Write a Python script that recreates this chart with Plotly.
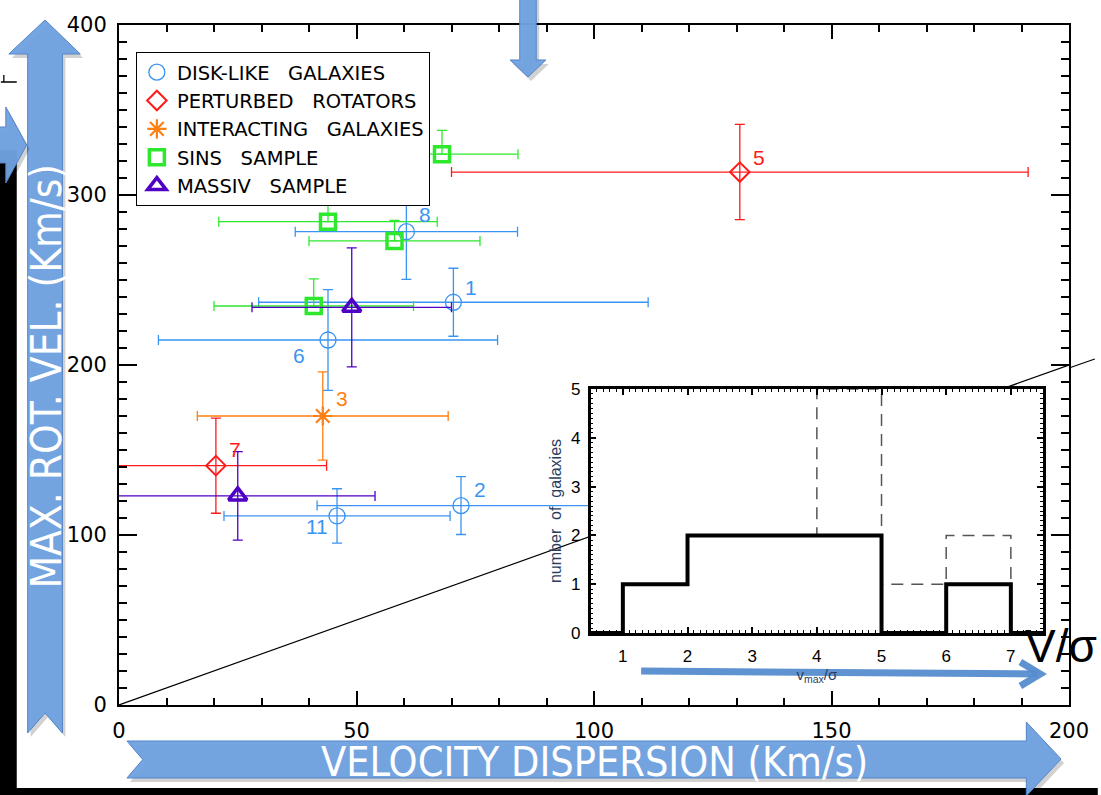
import plotly.graph_objects as go

# ---------------- data ----------------
disk_x = [60.5, 70.4, 44.0, 72.0, 45.9]
disk_y = [278.4, 236.9, 214.7, 117.3, 111.2]
disk_xerr = [23.4, 41.0, 35.7, 30.3, 23.8]
disk_yerr = [28.0, 20.0, 29.6, 17.0, 16.0]
disk_ids = ["8", "1", "6", "2", "11"]

pert_x = [130.7, 20.4]
pert_y = [313.5, 140.8]
pert_xerr = [60.7, 23.3]
pert_yerr = [28.0, 28.0]
pert_ids = ["5", "7"]

inter_x = [42.9]
inter_y = [170.0]
inter_xerr = [26.4]
inter_yerr = [26.0]
inter_ids = ["3"]

sins_x = [68.0, 44.0, 58.0, 41.0]
sins_y = [324.0, 284.3, 273.0, 234.7]
sins_xerr = [16.0, 23.0, 18.0, 21.0]
sins_yerr_up = [14.0, 23.5, 12.0, 16.0]
sins_yerr_down = [0, 0, 0, 0]

massiv_x = [49.0, 25.0]
massiv_y = [233.9, 123.0]
massiv_xerr = [21.0, 28.9]
massiv_yerr = [35.0, 26.0]

diag_x = [0, 200]
diag_y = [0, 200]

hist_edges = [1, 2, 3, 4, 5, 6, 7]
hist_solid = [1, 2, 2, 2, 0, 1]
hist_dashed = [1, 2, 2, 5, 1, 2]
hist_xmin, hist_xmax = 0.5, 7.5

x_ticks = [0, 50, 100, 150, 200]
y_ticks = [0, 100, 200, 300, 400]
inset_xticks = [1, 2, 3, 4, 5, 6, 7]
inset_yticks = [0, 1, 2, 3, 4, 5]

# ---------------- colours / layout constants ----------------
C_DISK = "#3a94f2"
C_PERT = "#ff1a1a"
C_INTER = "#ff7f12"
C_SINS = "#2ee82e"
C_MASSIV = "#4f00c4"

W, H = 1101, 795
L, R, T, B = 119, 25, 25, 90
PW, PH = W - L - R, H - T - B

# pixel offsets of the number labels (text centre relative to the point)
LABEL_SHIFT = {"8": (19, -17), "1": (18, -15), "6": (-29, 15), "2": (19, -16),
               "11": (-20, 11), "5": (19, -15), "7": (19, -16), "3": (19, -18)}


def px(x):
    return (x - L) / PW


def py(y):
    return (H - B - y) / PH


def path(points):
    return "M " + " L ".join(f"{px(a):.5f},{py(b):.5f}" for a, b in points) + " Z"


fig = go.Figure()

fig.add_trace(go.Scatter(x=diag_x, y=diag_y, mode="lines",
                         line=dict(color="black", width=1.2),
                         showlegend=False, hoverinfo="skip"))


def series(name, x, y, xe, ye, color, symbol, size, lw, ye_minus=None):
    ey = dict(type="data", array=ye, color=color, thickness=1.3, width=5)
    if ye_minus is not None:
        ey["symmetric"] = False
        ey["arrayminus"] = ye_minus
    fig.add_trace(go.Scatter(
        x=x, y=y, mode="markers", name=name,
        marker=dict(symbol=symbol, size=size, color=color,
                    line=dict(color=color, width=lw)),
        error_x=dict(type="data", array=xe, color=color, thickness=1.3, width=5),
        error_y=ey,
    ))


NB = "\u00a0"
series(f"DISK-LIKE{NB*3}GALAXIES", disk_x, disk_y, disk_xerr, disk_yerr,
       C_DISK, "circle-open", 16, 1.3)
series(f"PERTURBED{NB*3}ROTATORS", pert_x, pert_y, pert_xerr, pert_yerr,
       C_PERT, "diamond-open", 15, 2)
series(f"INTERACTING{NB*3}GALAXIES", inter_x, inter_y, inter_xerr, inter_yerr,
       C_INTER, "asterisk-open", 16, 2.2)
series(f"SINS{NB*3}SAMPLE", sins_x, sins_y, sins_xerr, sins_yerr_up,
       C_SINS, "square-open", 15, 3.5, ye_minus=sins_yerr_down)
series(f"MASSIV{NB*3}SAMPLE", massiv_x, massiv_y, massiv_xerr, massiv_yerr,
       C_MASSIV, "triangle-up-open", 16, 3.5)

for xs, ys, ids, col in [(disk_x, disk_y, disk_ids, C_DISK),
                         (pert_x, pert_y, pert_ids, C_PERT),
                         (inter_x, inter_y, inter_ids, C_INTER)]:
    for xv, yv, lab in zip(xs, ys, ids):
        sx_, sy_ = LABEL_SHIFT[lab]
        fig.add_annotation(x=xv, y=yv, xref="x", yref="y", text=lab, showarrow=False,
                           xanchor="center", yanchor="middle",
                           xshift=sx_, yshift=-sy_,
                           font=dict(family="Liberation Sans", size=21, color=col))

# ---------------- inset histogram ----------------
def steps(counts):
    xs = [hist_xmin] + hist_edges[:-1] + [hist_edges[-1], hist_xmax]
    ys = [0] + counts + [0, 0]
    return xs, ys


dx, dy = steps(hist_dashed)
sx, sy = steps(hist_solid)
fig.add_trace(go.Scatter(x=dx, y=dy, mode="lines", line_shape="hv",
                         line=dict(color="#555555", width=1.5, dash="12px,8px"),
                         xaxis="x2", yaxis="y2", showlegend=False))
fig.add_trace(go.Scatter(x=sx, y=sy, mode="lines", line_shape="hv",
                         line=dict(color="black", width=4),
                         xaxis="x2", yaxis="y2", showlegend=False))

axfont = dict(family="DejaVu Sans", size=21, color="black")
infont = dict(family="Liberation Sans", size=17, color="black")

fig.update_layout(
    width=W, height=H,
    margin=dict(l=L, r=R, t=T, b=B),
    paper_bgcolor="white", plot_bgcolor="white",
    xaxis=dict(range=[0, 200], tickvals=x_ticks, ticks="inside", ticklen=14, tickwidth=1.6,
               tickcolor="black", showline=True, linecolor="black", linewidth=2,
               mirror="ticks", showgrid=False, zeroline=False, tickfont=axfont,
               ticklabelstandoff=6,
               minor=dict(dtick=10, ticks="inside", ticklen=7, tickwidth=1.6,
                          tickcolor="black", showgrid=False)),
    yaxis=dict(range=[0, 400], tickvals=y_ticks, ticks="inside", ticklen=18, tickwidth=1.6,
               tickcolor="black", showline=True, linecolor="black", linewidth=2,
               mirror="ticks", showgrid=False, zeroline=False, tickfont=axfont,
               ticklabelstandoff=6,
               minor=dict(dtick=10, ticks="inside", ticklen=8, tickwidth=1.6,
                          tickcolor="black", showgrid=False)),
    xaxis2=dict(domain=[px(594), px(1050)], anchor="y2", range=[hist_xmin, hist_xmax],
                tickvals=inset_xticks, ticks="inside", ticklen=6, tickwidth=1.5,
                tickcolor="black", showline=True, linecolor="black", linewidth=2.5,
                mirror="ticks", showgrid=False, zeroline=False, tickfont=infont,
                ticklabelstandoff=6,
                title=dict(text="v<sub>max</sub>/σ", font=dict(family="Liberation Sans", size=15),
                           standoff=4),
                minor=dict(dtick=0.1, ticks="inside", ticklen=3, tickwidth=1.2,
                           tickcolor="black", showgrid=False)),
    yaxis2=dict(domain=[py(633), py(389)], anchor="x2", range=[0, 5],
                tickvals=inset_yticks, ticks="inside", ticklen=6, tickwidth=1.5,
                tickcolor="black", showline=True, linecolor="black", linewidth=2.5,
                mirror="ticks", showgrid=False, zeroline=False, tickfont=infont,
                ticklabelstandoff=4,
                title=dict(text="number  of  galaxies", font=dict(family="Liberation Sans", size=16),
                           standoff=6),
                minor=dict(dtick=0.1, ticks="inside", ticklen=3, tickwidth=1.2,
                           tickcolor="black", showgrid=False)),
    legend=dict(x=px(136), y=py(52), xanchor="left", yanchor="top",
                bgcolor="white", bordercolor="black", borderwidth=1,
                font=dict(family="DejaVu Sans", size=19.5, color="black"),
                itemsizing="trace", tracegroupgap=0),
    showlegend=True,
)

# ---------------- decorative overlay (slide annotations) ----------------
ARROW_FILL = "rgba(112,162,224,0.96)"
ARROW_LINE = "rgba(82,132,202,1)"
SHADOW = "rgba(0,0,0,0.18)"

shapes = []
shapes.append(dict(type="line", xref="paper", yref="paper", x0=px(1076), y0=py(368),
                   x1=px(1102), y1=py(359), line=dict(color="black", width=1.2), layer="above"))
shapes.append(dict(type="rect", xref="paper", yref="paper", x0=px(-2), x1=px(16),
                   y0=py(150), y1=py(800), fillcolor="black", line=dict(width=0), layer="above"))
shapes.append(dict(type="rect", xref="paper", yref="paper", x0=px(-2), x1=px(1105),
                   y0=py(788), y1=py(800), fillcolor="black", line=dict(width=0), layer="above"))
shapes.append(dict(type="path", xref="paper", yref="paper",
                   path=f"M {px(0)},{py(82)} L {px(16)},{py(82)} M {px(3)},{py(75)} L {px(3)},{py(82)}",
                   line=dict(color="black", width=1.3), layer="above"))

arrows = [
    [(44.5, 20), (80, 54), (62, 54), (62, 733), (44.5, 713), (27, 733), (27, 54), (8, 54)],
    [(127, 741), (1033, 741), (1033, 722), (1068, 759), (1033, 796), (1033, 778), (127, 778), (143, 759.5)],
    [(522.7, -5), (539.3, -5), (539.3, 60), (549, 60), (531, 77), (513, 60), (522.7, 60)],
    [(-5, 127), (5, 127), (5, 107), (26, 145), (5, 183), (5, 163), (-5, 163)],
]
for pts in arrows:
    shp = [(a + 3, b + 4) for a, b in pts]
    shapes.append(dict(type="path", xref="paper", yref="paper", path=path(shp),
                       fillcolor=SHADOW, line=dict(width=0), layer="above"))
    shapes.append(dict(type="path", xref="paper", yref="paper", path=path(pts),
                       fillcolor=ARROW_FILL, line=dict(color=ARROW_LINE, width=1), layer="above"))

IN_ARROW = "rgba(85,140,205,0.95)"
shapes.append(dict(type="line", xref="paper", yref="paper", x0=px(645), y0=py(671),
                   x1=px(1044), y1=py(674), line=dict(color=IN_ARROW, width=7), layer="above"))
shapes.append(dict(type="path", xref="paper", yref="paper",
                   path=f"M {px(1027)},{py(662)} L {px(1047)},{py(674)} L {px(1027)},{py(686)}",
                   line=dict(color=IN_ARROW, width=7), layer="above"))

fig.update_layout(shapes=shapes)

COND = "DejaVu Sans Condensed, Liberation Sans Narrow, Roboto"
fig.add_annotation(xref="paper", yref="paper", x=px(46), y=py(376), text="MAX. ROT. VEL. (Km/s)",
                   textangle=-90, showarrow=False, xanchor="center", yanchor="middle",
                   font=dict(family=COND, size=42, color="white"))
fig.add_annotation(xref="paper", yref="paper", x=px(598), y=py(762), text="VELOCITY DISPERSION (Km/s)",
                   showarrow=False, xanchor="center", yanchor="middle",
                   font=dict(family=COND, size=41, color="white"))
fig.add_annotation(xref="paper", yref="paper", x=px(1068), y=py(646), text="V/σ",
                   showarrow=False, xanchor="center", yanchor="middle",
                   font=dict(family="Liberation Sans", size=46, color="black"))

fig.write_html("out.html", config={"displayModeBar": False},
               post_script="document.body.style.margin='0';document.body.style.overflow='hidden';")
